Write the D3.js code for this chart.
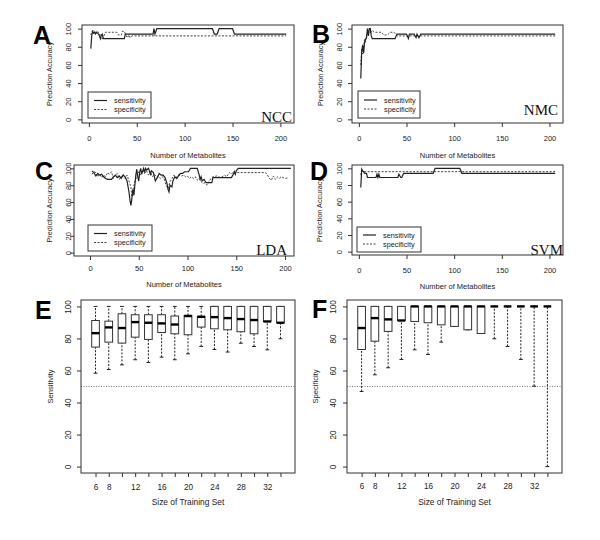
<!DOCTYPE html>
<html>
<head>
<meta charset="utf-8">
<script src="https://cdn.jsdelivr.net/npm/d3@7"></script>
<style>
  body { margin: 0; background: #fff; }
  text { font-family: "Liberation Sans", Arial, sans-serif; fill: #222; }
</style>
</head>
<body>
<svg id="fig"></svg>
<script>
// ---- panels A-D: accuracy vs number of metabolites, [metabolites, %] ----
const nccSens = [[2,78],[3,93],[4,97],[5,95],[6,96],[7,94],[8,96],[9,95],[10,94],[11,92],[12,89],[13,93],[14,94],[15,89],[37,89],[38,94],[67,94],[68,100],[69,94],[71,100],[129,100],[131,94],[134,94],[136,100],[150,100],[152,94],[206,94]];
const nccSpec = [[2,93],[3,97],[5,98],[7,96],[9,97],[11,95],[13,88],[15,90],[17,96],[29,96],[31,93],[34,93],[35,97],[37,97],[40,90],[42,93],[43,90],[45,92],[206,92]];

const nmcSens = [[2,45],[3,75],[4,82],[5,73],[6,85],[7,88],[8,90],[9,100],[10,92],[11,100],[12,100],[13,92],[14,89],[38,89],[40,94],[50,94],[52,89],[53,94],[58,94],[60,90],[61,94],[63,90],[65,94],[206,94]];
const nmcSpec = [[2,60],[3,78],[4,72],[5,80],[6,88],[7,85],[8,93],[10,96],[12,95],[14,98],[16,96],[24,96],[26,93],[30,93],[33,96],[37,96],[40,92],[206,92]];

const ldaSens = [[2,97],[4,95],[6,91],[8,94],[10,92],[12,93],[14,90],[16,88],[18,87],[22,87],[24,90],[26,92],[28,89],[30,91],[32,88],[34,92],[36,90],[38,85],[40,72],[41,62],[42,56],[43,65],[44,75],[45,68],[46,80],[47,92],[48,99],[49,90],[50,85],[51,96],[52,100],[53,93],[54,97],[55,100],[56,95],[57,100],[58,98],[60,100],[62,93],[63,97],[65,95],[67,85],[69,89],[71,94],[73,92],[75,92],[77,89],[79,82],[80,75],[81,72],[82,80],[84,78],[85,85],[87,90],[89,88],[91,92],[93,94],[95,94],[97,96],[101,96],[103,100],[110,100],[112,92],[113,87],[114,90],[115,85],[117,87],[119,83],[125,83],[126,89],[145,89],[147,93],[148,96],[149,93],[150,97],[152,100],[206,100]];
const ldaSpec = [[2,93],[4,96],[6,95],[8,90],[10,93],[12,89],[14,92],[16,90],[18,95],[20,93],[22,96],[24,88],[26,92],[28,94],[30,87],[32,90],[34,93],[36,88],[38,92],[40,85],[42,78],[43,66],[44,74],[46,85],[48,90],[50,96],[52,92],[54,98],[56,94],[58,97],[60,92],[62,96],[64,90],[66,93],[68,90],[70,91],[72,88],[74,90],[76,88],[78,80],[80,76],[82,84],[84,88],[86,92],[88,90],[90,89],[92,92],[94,91],[96,92],[98,90],[100,91],[102,88],[104,90],[106,88],[108,90],[110,86],[112,88],[114,84],[116,82],[118,83],[120,80],[122,84],[124,88],[126,90],[130,91],[134,89],[138,92],[140,90],[143,95],[145,93],[147,96],[150,95],[180,95],[182,92],[184,88],[186,86],[188,91],[190,87],[192,90],[194,88],[196,90],[198,89],[200,88],[204,89]];

const svmSens = [[2,77],[3,99],[4,97],[5,96],[6,94],[8,94],[9,89],[18,89],[19,93],[20,89],[21,93],[22,89],[41,89],[42,93],[44,89],[45,89],[47,94],[78,94],[80,100],[106,100],[108,94],[206,94]];
const svmSpec = [[2,92],[3,97],[4,96],[206,96]];

const metTicks = [0, 50, 100, 150, 200];
const accTicks = [0, 20, 40, 60, 80, 100];
const legendLabels = ["sensitivity", "specificity"];

// ---- panels E-F: boxplots vs size of training set ----
const trainSizes = [6, 8, 10, 12, 14, 16, 18, 20, 22, 24, 26, 28, 30, 32, 34];
const trainLabels = [6, 8, 12, 16, 20, 24, 28, 32];

const sensLow = [58.3, 60.6, 63.5, 66.7, 65, 68.3, 66.7, 70.4, 75, 73.1, 71.5, 77, 75, 72.9, 79.8];
const sensQ1  = [74.6, 77.7, 77.1, 80.8, 79.4, 83.7, 82.9, 82.3, 87.1, 86, 85.4, 84.2, 82.9, 90.6, 89.8];
const sensMed = [83.3, 86.9, 86.5, 90.2, 89.8, 89.4, 88.7, 94, 93.5, 93.3, 92.7, 92.1, 91.5, 90.6, 89.8];
const sensQ3  = [91.2, 90.8, 95.4, 94.8, 94.8, 94.8, 94, 94.4, 93.8, 100, 100, 100, 100, 100, 100];
const sensHigh = [100, 100, 100, 100, 100, 100, 100, 100, 100, 100, 100, 100, 100, 100, 100];

const specLow = [46.9, 57.3, 61.7, 66.9, 72.9, 70, 77.7, 87.5, 85.4, 83.1, 79.8, 75, 66.9, 50.2, 0];
const specQ1  = [73.1, 78.3, 84.4, 91.2, 90.6, 89.8, 88.5, 87.5, 85.4, 83.1, 100, 100, 100, 100, 100];
const specMed = [86.5, 92.7, 91.9, 91.2, 100, 100, 100, 100, 100, 100, 100, 100, 100, 100, 100];
const specQ3  = [100, 100, 100, 100, 100, 100, 100, 100, 100, 100, 100, 100, 100, 100, 100];
const specHigh = [100, 100, 100, 100, 100, 100, 100, 100, 100, 100, 100, 100, 100, 100, 100];

const W = 600, H = 540;
const svg = d3.select("#fig").attr("width", W).attr("height", H);
svg.append("rect").attr("width", W).attr("height", H).attr("fill", "#fff");

const ink = "#222";
const frame = "#333";

function panelLetter(letter, x, y) {
  svg.append("text")
    .attr("x", x).attr("y", y)
    .attr("font-size", 25)
    .attr("font-weight", "bold")
    .style("fill", "#000")
    .text(letter);
}

function styleAxis(g, fs) {
  g.select(".domain").remove();
  g.selectAll(".tick line").attr("stroke", frame);
  g.selectAll("text").attr("font-size", fs).style("fill", ink);
}

function linePanel(p) {
  const x = d3.scaleLinear().domain(p.xdom).range([p.left, p.right]);
  const y = d3.scaleLinear().domain([-4, 104]).range([p.bottom, p.top]);
  const g = svg.append("g");

  const line = d3.line().x(d => x(d[0])).y(d => y(d[1]));

  g.append("path")
    .datum(p.spec)
    .attr("d", line)
    .attr("fill", "none")
    .attr("stroke", "#444")
    .attr("stroke-width", 1)
    .attr("stroke-dasharray", "2,1.5");

  g.append("path")
    .datum(p.sens)
    .attr("d", line)
    .attr("fill", "none")
    .attr("stroke", ink)
    .attr("stroke-width", 1.2);

  g.append("rect")
    .attr("x", p.left).attr("y", p.top)
    .attr("width", p.right - p.left).attr("height", p.bottom - p.top)
    .attr("fill", "none").attr("stroke", frame);

  // x axis
  const fs = 7.5;
  const xa = g.append("g")
    .attr("transform", `translate(0,${p.bottom})`)
    .call(d3.axisBottom(x).tickValues(metTicks).tickSize(4)
      .tickPadding(p.tickBase - p.bottom - 4 - 0.71 * fs));
  styleAxis(xa, fs);

  // y axis with rotated labels
  const ya = g.append("g")
    .attr("transform", `translate(${p.left},0)`)
    .call(d3.axisLeft(y).tickValues(accTicks).tickSize(4));
  styleAxis(ya, fs);
  ya.selectAll("text")
    .attr("x", null).attr("dy", "0.35em")
    .attr("text-anchor", "middle")
    .attr("transform", `translate(${p.yLabelX - p.left},0) rotate(-90)`);

  g.append("text")
    .attr("x", (p.left + p.right) / 2).attr("y", p.titleBase)
    .attr("text-anchor", "middle").attr("font-size", 7.5)
    .text("Number of Metabolites");

  g.append("text")
    .attr("transform", `translate(${p.yTitleX},${(p.top + p.bottom) / 2}) rotate(-90)`)
    .attr("dy", "0.35em")
    .attr("text-anchor", "middle").attr("font-size", 7.3)
    .text("Prediction Accuracy");

  // legend
  const L = p.legend;
  g.append("rect")
    .attr("x", L.x).attr("y", L.y).attr("width", L.w).attr("height", L.h)
    .attr("fill", "#fff").attr("stroke", frame);
  legendLabels.forEach((lab, i) => {
    const ry = L.y + L.h / 2 + (i - 0.5) * 9;
    g.append("line")
      .attr("x1", L.x + 6).attr("x2", L.x + 19)
      .attr("y1", ry).attr("y2", ry)
      .attr("stroke", i === 0 ? ink : "#444")
      .attr("stroke-width", i === 0 ? 1.2 : 1)
      .attr("stroke-dasharray", i === 0 ? null : "2,1.5");
    g.append("text")
      .attr("x", L.x + 26).attr("y", ry).attr("dy", "0.35em")
      .attr("font-size", 7.3)
      .text(lab);
  });

  g.append("text")
    .attr("x", p.methodX).attr("y", p.methodY)
    .attr("text-anchor", "end")
    .attr("font-family", "Liberation Serif, Times New Roman, serif")
    .style("font-family", "'Liberation Serif', 'Times New Roman', serif")
    .attr("font-size", 15)
    .style("fill", "#111")
    .text(p.method);

  panelLetter(p.letter, p.letterX, p.letterY);
}

function boxPanel(p) {
  const xi = d3.scaleLinear().domain([-0.1, 16.1]).range([p.left, p.right]);
  const x = d3.scalePoint().domain(trainSizes).range([xi(1), xi(15)]);
  const y = d3.scaleLinear().domain([-4, 104]).range([p.bottom, p.top]);
  const g = svg.append("g");
  const bw = xi(0.58) - xi(0);
  const sw = bw / 2;

  const rows = trainSizes.map((s, i) => ({
    s, lo: p.lo[i], q1: p.q1[i], med: p.med[i], q3: p.q3[i], hi: p.hi[i]
  }));

  g.append("line")
    .attr("x1", p.left).attr("x2", p.right)
    .attr("y1", y(50)).attr("y2", y(50))
    .attr("stroke", "#666").attr("stroke-width", 0.9)
    .attr("stroke-dasharray", "1,1.5");

  const b = g.selectAll(".bx").data(rows).enter().append("g").attr("class", "bx");

  // whiskers
  b.append("line")
    .attr("x1", d => x(d.s)).attr("x2", d => x(d.s))
    .attr("y1", d => y(d.lo)).attr("y2", d => y(d.q1))
    .attr("stroke", ink).attr("stroke-dasharray", "2,1.5");
  b.append("line")
    .attr("x1", d => x(d.s)).attr("x2", d => x(d.s))
    .attr("y1", d => y(d.q3)).attr("y2", d => y(d.hi))
    .attr("stroke", ink).attr("stroke-dasharray", "2,1.5");
  // staples
  b.append("line")
    .attr("x1", d => x(d.s) - sw / 2).attr("x2", d => x(d.s) + sw / 2)
    .attr("y1", d => y(d.lo)).attr("y2", d => y(d.lo))
    .attr("stroke", ink);
  b.append("line")
    .attr("x1", d => x(d.s) - sw / 2).attr("x2", d => x(d.s) + sw / 2)
    .attr("y1", d => y(d.hi)).attr("y2", d => y(d.hi))
    .attr("stroke", ink);
  // boxes
  b.append("rect")
    .attr("x", d => x(d.s) - bw / 2).attr("width", bw)
    .attr("y", d => y(d.q3)).attr("height", d => y(d.q1) - y(d.q3))
    .attr("fill", "#fff").attr("stroke", "#333").attr("stroke-width", 1);
  // medians
  b.append("line")
    .attr("x1", d => x(d.s) - bw / 2).attr("x2", d => x(d.s) + bw / 2)
    .attr("y1", d => y(d.med)).attr("y2", d => y(d.med))
    .attr("stroke", "#000").attr("stroke-width", 2.4);

  g.append("rect")
    .attr("x", p.left).attr("y", p.top)
    .attr("width", p.right - p.left).attr("height", p.bottom - p.top)
    .attr("fill", "none").attr("stroke", frame);

  const fs = 8.2;
  const xa = g.append("g")
    .attr("transform", `translate(0,${p.bottom})`)
    .call(d3.axisBottom(x).tickSize(4)
      .tickFormat(d => trainLabels.includes(d) ? d : "")
      .tickPadding(p.tickBase - p.bottom - 4 - 0.71 * fs));
  styleAxis(xa, fs);

  const ya = g.append("g")
    .attr("transform", `translate(${p.left},0)`)
    .call(d3.axisLeft(y).tickValues(accTicks).tickSize(4));
  styleAxis(ya, fs);
  ya.selectAll("text")
    .attr("x", null).attr("dy", "0.35em")
    .attr("text-anchor", "middle")
    .attr("transform", `translate(${p.yLabelX - p.left},0) rotate(-90)`);

  g.append("text")
    .attr("x", (p.left + p.right) / 2).attr("y", p.titleBase)
    .attr("text-anchor", "middle").attr("font-size", 8.4)
    .text("Size of Training Set");

  g.append("text")
    .attr("transform", `translate(${p.yTitleX},${(p.top + p.bottom) / 2}) rotate(-90)`)
    .attr("dy", "0.35em")
    .attr("text-anchor", "middle").attr("font-size", 7.6)
    .text(p.ytitle);

  panelLetter(p.letter, p.letterX, p.letterY);
}

linePanel({
  sens: nccSens, spec: nccSpec, method: "NCC", letter: "A",
  left: 82, right: 294, top: 25, bottom: 123, xdom: [-7.2, 214.2],
  yLabelX: 68, yTitleX: 49, tickBase: 141, titleBase: 158,
  letterX: 33, letterY: 44, methodX: 292, methodY: 122,
  legend: { x: 88, y: 92, w: 63, h: 26 }
});
linePanel({
  sens: nmcSens, spec: nmcSpec, method: "NMC", letter: "B",
  left: 352, right: 563, top: 25, bottom: 123, xdom: [-7.2, 214.2],
  yLabelX: 339, yTitleX: 320, tickBase: 141, titleBase: 158,
  letterX: 312, letterY: 43, methodX: 558, methodY: 115,
  legend: { x: 358, y: 91, w: 62, h: 27 }
});
linePanel({
  sens: ldaSens, spec: ldaSpec, method: "LDA", letter: "C",
  left: 74, right: 294, top: 165, bottom: 256, xdom: [-16.4, 209.2],
  yLabelX: 68, yTitleX: 49, tickBase: 271, titleBase: 287,
  letterX: 35, letterY: 180, methodX: 287, methodY: 255,
  legend: { x: 88, y: 225, w: 64, h: 26 }
});
linePanel({
  sens: svmSens, spec: svmSpec, method: "SVM", letter: "D",
  left: 352, right: 563, top: 165, bottom: 255, xdom: [-7.2, 214.2],
  yLabelX: 339, yTitleX: 319, tickBase: 273, titleBase: 289,
  letterX: 310, letterY: 180, methodX: 563, methodY: 255,
  legend: { x: 357, y: 227, w: 64, h: 25 }
});

boxPanel({
  lo: sensLow, q1: sensQ1, med: sensMed, q3: sensQ3, hi: sensHigh,
  ytitle: "Sensitivity", letter: "E",
  left: 81, right: 295, top: 300, bottom: 473,
  yLabelX: 68, yTitleX: 50, tickBase: 490, titleBase: 505,
  letterX: 35, letterY: 319
});
boxPanel({
  lo: specLow, q1: specQ1, med: specMed, q3: specQ3, hi: specHigh,
  ytitle: "Specificity", letter: "F",
  left: 347, right: 562, top: 300, bottom: 473,
  yLabelX: 333, yTitleX: 315, tickBase: 489, titleBase: 505,
  letterX: 312, letterY: 318
});
</script>
</body>
</html>
